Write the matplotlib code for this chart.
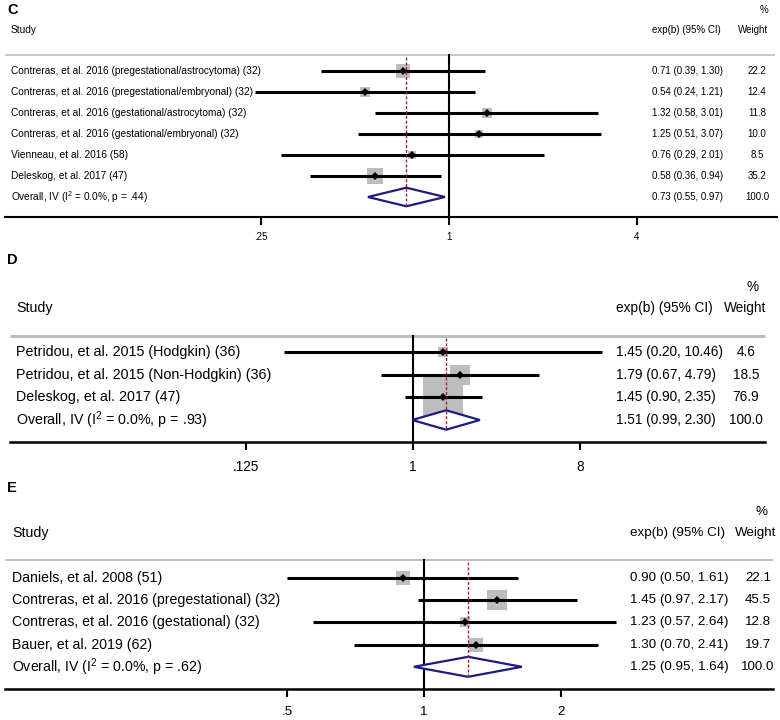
import numpy as np
import matplotlib
matplotlib.use('Agg')
import matplotlib.pyplot as plt
import matplotlib.transforms as mtransforms
from matplotlib.patches import Polygon

plt.rcParams['font.family'] = ['Liberation Sans', 'DejaVu Sans']
plt.rcParams['mathtext.fontset'] = 'custom'
plt.rcParams['mathtext.rm'] = 'Liberation Sans'

# ---------------- data ----------------
c_studies = ["Contreras, et al. 2016 (pregestational/astrocytoma) (32)",
             "Contreras, et al. 2016 (pregestational/embryonal) (32)",
             "Contreras, et al. 2016 (gestational/astrocytoma) (32)",
             "Contreras, et al. 2016 (gestational/embryonal) (32)",
             "Vienneau, et al. 2016 (58)",
             "Deleskog, et al. 2017 (47)"]
c_est = [0.71, 0.54, 1.32, 1.25, 0.76, 0.58]
c_lo = [0.39, 0.24, 0.58, 0.51, 0.29, 0.36]
c_hi = [1.30, 1.21, 3.01, 3.07, 2.01, 0.94]
c_weight = [22.2, 12.4, 11.8, 10.0, 8.5, 35.2]
c_overall = [0.73, 0.55, 0.97]
c_i2 = "0.0%"
c_p = ".44"
c_ticks = [0.25, 1, 4]
c_ticklabels = [".25", "1", "4"]

d_studies = ["Petridou, et al. 2015 (Hodgkin) (36)",
             "Petridou, et al. 2015 (Non-Hodgkin) (36)",
             "Deleskog, et al. 2017 (47)"]
d_est = [1.45, 1.79, 1.45]
d_lo = [0.20, 0.67, 0.90]
d_hi = [10.46, 4.79, 2.35]
d_weight = [4.6, 18.5, 76.9]
d_overall = [1.51, 0.99, 2.30]
d_i2 = "0.0%"
d_p = ".93"
d_ticks = [0.125, 1, 8]
d_ticklabels = [".125", "1", "8"]

e_studies = ["Daniels, et al. 2008 (51)",
             "Contreras, et al. 2016 (pregestational) (32)",
             "Contreras, et al. 2016 (gestational) (32)",
             "Bauer, et al. 2019 (62)"]
e_est = [0.90, 1.45, 1.23, 1.30]
e_lo = [0.50, 0.97, 0.57, 0.70]
e_hi = [1.61, 2.17, 2.64, 2.41]
e_weight = [22.1, 45.5, 12.8, 19.7]
e_overall = [1.25, 0.95, 1.64]
e_i2 = "0.0%"
e_p = ".62"
e_ticks = [0.5, 1, 2]
e_ticklabels = [".5", "1", "2"]

# ---------------- layout ----------------
W, H = 780, 720
PX_PT = 100 / 72.0
fig = plt.figure(figsize=(W / 100, H / 100), dpi=100)

NAVY = '#1c1c80'
RED = '#9e2a2b'
SQ = '#bdbdbd'

panels = [
    dict(label='C', studies=c_studies, est=c_est, lo=c_lo, hi=c_hi, w=c_weight,
         ov=c_overall, i2=c_i2, p=c_p, ticks=c_ticks, ticklabels=c_ticklabels,
         top=0, axis_y=217, sep_y=55, header_y=30, pct_y=10, label_y=10,
         row0=71, step=21.0, xL=5, xR=777, c=449, u=94.0, fs=7.0, lfs=7.25,
         study_x=11, stat_x=652, w_x=757, wh_x=768, pct_x=768, k=2.78, dh=9.3,
         tl_y=237, sep_x0=5, sep_x1=775, sep_col='#c8c8c8', sep_lw=1.4,
         label_fs=10.5, ax_lw=1.5),
    dict(label='D', studies=d_studies, est=d_est, lo=d_lo, hi=d_hi, w=d_weight,
         ov=d_overall, i2=d_i2, p=d_p, ticks=d_ticks, ticklabels=d_ticklabels,
         top=245, axis_y=442, sep_y=336, header_y=308, pct_y=287, label_y=260,
         row0=352.5, step=22.5, xL=10, xR=765, c=413, u=55.67, fs=9.8, lfs=10.3,
         study_x=16, stat_x=616, w_x=746, wh_x=766, pct_x=759, k=4.45, dh=9.7,
         tl_y=467, sep_x0=10, sep_x1=765, sep_col='#bdbdbd', sep_lw=2.2,
         label_fs=10.5, ax_lw=1.8),
    dict(label='E', studies=e_studies, est=e_est, lo=e_lo, hi=e_hi, w=e_weight,
         ov=e_overall, i2=e_i2, p=e_p, ticks=e_ticks, ticklabels=e_ticklabels,
         top=475, axis_y=689, sep_y=560, header_y=533, pct_y=512, label_y=488,
         row0=578, step=22.2, xL=5, xR=773, c=424, u=137.0, fs=9.6, lfs=10.15,
         study_x=12, stat_x=630, w_x=758, wh_x=776, pct_x=768, k=2.96, dh=10.0,
         tl_y=713, sep_x0=5, sep_x1=773, sep_col='#b8b8b8', sep_lw=1.3,
         label_fs=10.5, ax_lw=1.8),
]

for P in panels:
    ax = fig.add_axes([P['xL'] / W, 1 - P['axis_y'] / H,
                       (P['xR'] - P['xL']) / W, (P['axis_y'] - P['top']) / H])
    ax.set_facecolor('none')
    ax.set_xscale('log', base=2)
    ax.set_xlim(2 ** ((P['xL'] - P['c']) / P['u']), 2 ** ((P['xR'] - P['c']) / P['u']))
    ax.set_ylim(P['axis_y'], P['top'])
    for s in ['top', 'left', 'right']:
        ax.spines[s].set_visible(False)
    ax.spines['bottom'].set_linewidth(P['ax_lw'])
    ax.set_yticks([])
    ax.xaxis.set_minor_locator(matplotlib.ticker.NullLocator())
    ax.set_xticks(P['ticks'])
    ax.set_xticklabels(P['ticklabels'])
    tick_len_px = 8
    pad_px = P['tl_y'] - P['axis_y'] - tick_len_px - P['fs'] * PX_PT * 0.55
    ax.tick_params(axis='x', direction='out', length=tick_len_px / PX_PT,
                   width=1.5, labelsize=P['fs'], pad=pad_px / PX_PT)

    fx = mtransforms.blended_transform_factory(fig.transFigure, ax.transData)
    def X(px):
        return px / W

    n = len(P['studies'])
    rows = [P['row0'] + i * P['step'] for i in range(n + 1)]
    ov_y = rows[-1]

    # separator line
    ax.plot([X(P['sep_x0']), X(P['sep_x1'])], [P['sep_y'], P['sep_y']],
            transform=fx, color=P['sep_col'], lw=P['sep_lw'], clip_on=False,
            solid_capstyle='butt')

    # weight squares
    for e, y, wt in zip(P['est'], rows, P['w']):
        side_pt = P['k'] * np.sqrt(wt) / PX_PT
        ax.scatter([e], [y], s=side_pt ** 2, marker='s', color=SQ,
                   linewidths=0, zorder=2)

    # CI lines
    for lo, hi, y in zip(P['lo'], P['hi'], rows):
        ax.plot([lo, hi], [y, y], color='black', lw=2.2, zorder=3,
                solid_capstyle='butt')

    # null line
    ax.plot([1, 1], [P['sep_y'], P['axis_y']], color='black', lw=1.5, zorder=3,
            clip_on=False)

    # overall diamond
    ov, olo, ohi = P['ov']
    dh = P['dh']
    diamond = Polygon([(olo, ov_y), (ov, ov_y - dh), (ohi, ov_y), (ov, ov_y + dh)],
                      closed=True, facecolor='white', edgecolor=NAVY, lw=1.6,
                      zorder=4)
    ax.add_patch(diamond)

    # overall dashed line
    ax.plot([ov, ov], [P['sep_y'] + 2, ov_y + dh], color=RED, lw=1.0,
            ls=(0, (2.2, 1.3)), zorder=5)

    # point markers
    ax.plot(P['est'], rows[:n], ls='none', marker='D', ms=4.0, color='black',
            mew=0, zorder=6)

    fs = P['fs']
    lfs = P['lfs']
    # texts
    ax.text(X(7), P['label_y'], P['label'], transform=fx, fontsize=P['label_fs'],
            fontweight='bold', ha='left', va='center')
    ax.text(X(P['study_x']), P['header_y'], 'Study', transform=fx, fontsize=lfs,
            ha='left', va='center')
    ax.text(X(P['stat_x']), P['header_y'], 'exp(b) (95% CI)', transform=fx,
            fontsize=fs, ha='left', va='center')
    ax.text(X(P['wh_x']), P['header_y'], 'Weight', transform=fx, fontsize=fs,
            ha='right', va='center')
    ax.text(X(P['pct_x']), P['pct_y'], '%', transform=fx, fontsize=fs,
            ha='right', va='center')

    labels = list(P['studies']) + [
        'Overall, IV (I$\\mathregular{^2}$ = ' + P['i2'] + ', p = ' + P['p'] + ')']
    ests = list(P['est']) + [ov]
    los = list(P['lo']) + [olo]
    his = list(P['hi']) + [ohi]
    wts = list(P['w']) + [100.0]
    for lab, y, e, lo, hi, wt in zip(labels, rows, ests, los, his, wts):
        ax.text(X(P['study_x']), y, lab, transform=fx, fontsize=lfs,
                ha='left', va='center')
        ax.text(X(P['stat_x']), y, '%.2f (%.2f, %.2f)' % (e, lo, hi),
                transform=fx, fontsize=fs, ha='left', va='center')
        ax.text(X(P['w_x']), y, '%.1f' % wt, transform=fx, fontsize=fs,
                ha='center', va='center')

fig.savefig('out.png', dpi=100, facecolor='white')
